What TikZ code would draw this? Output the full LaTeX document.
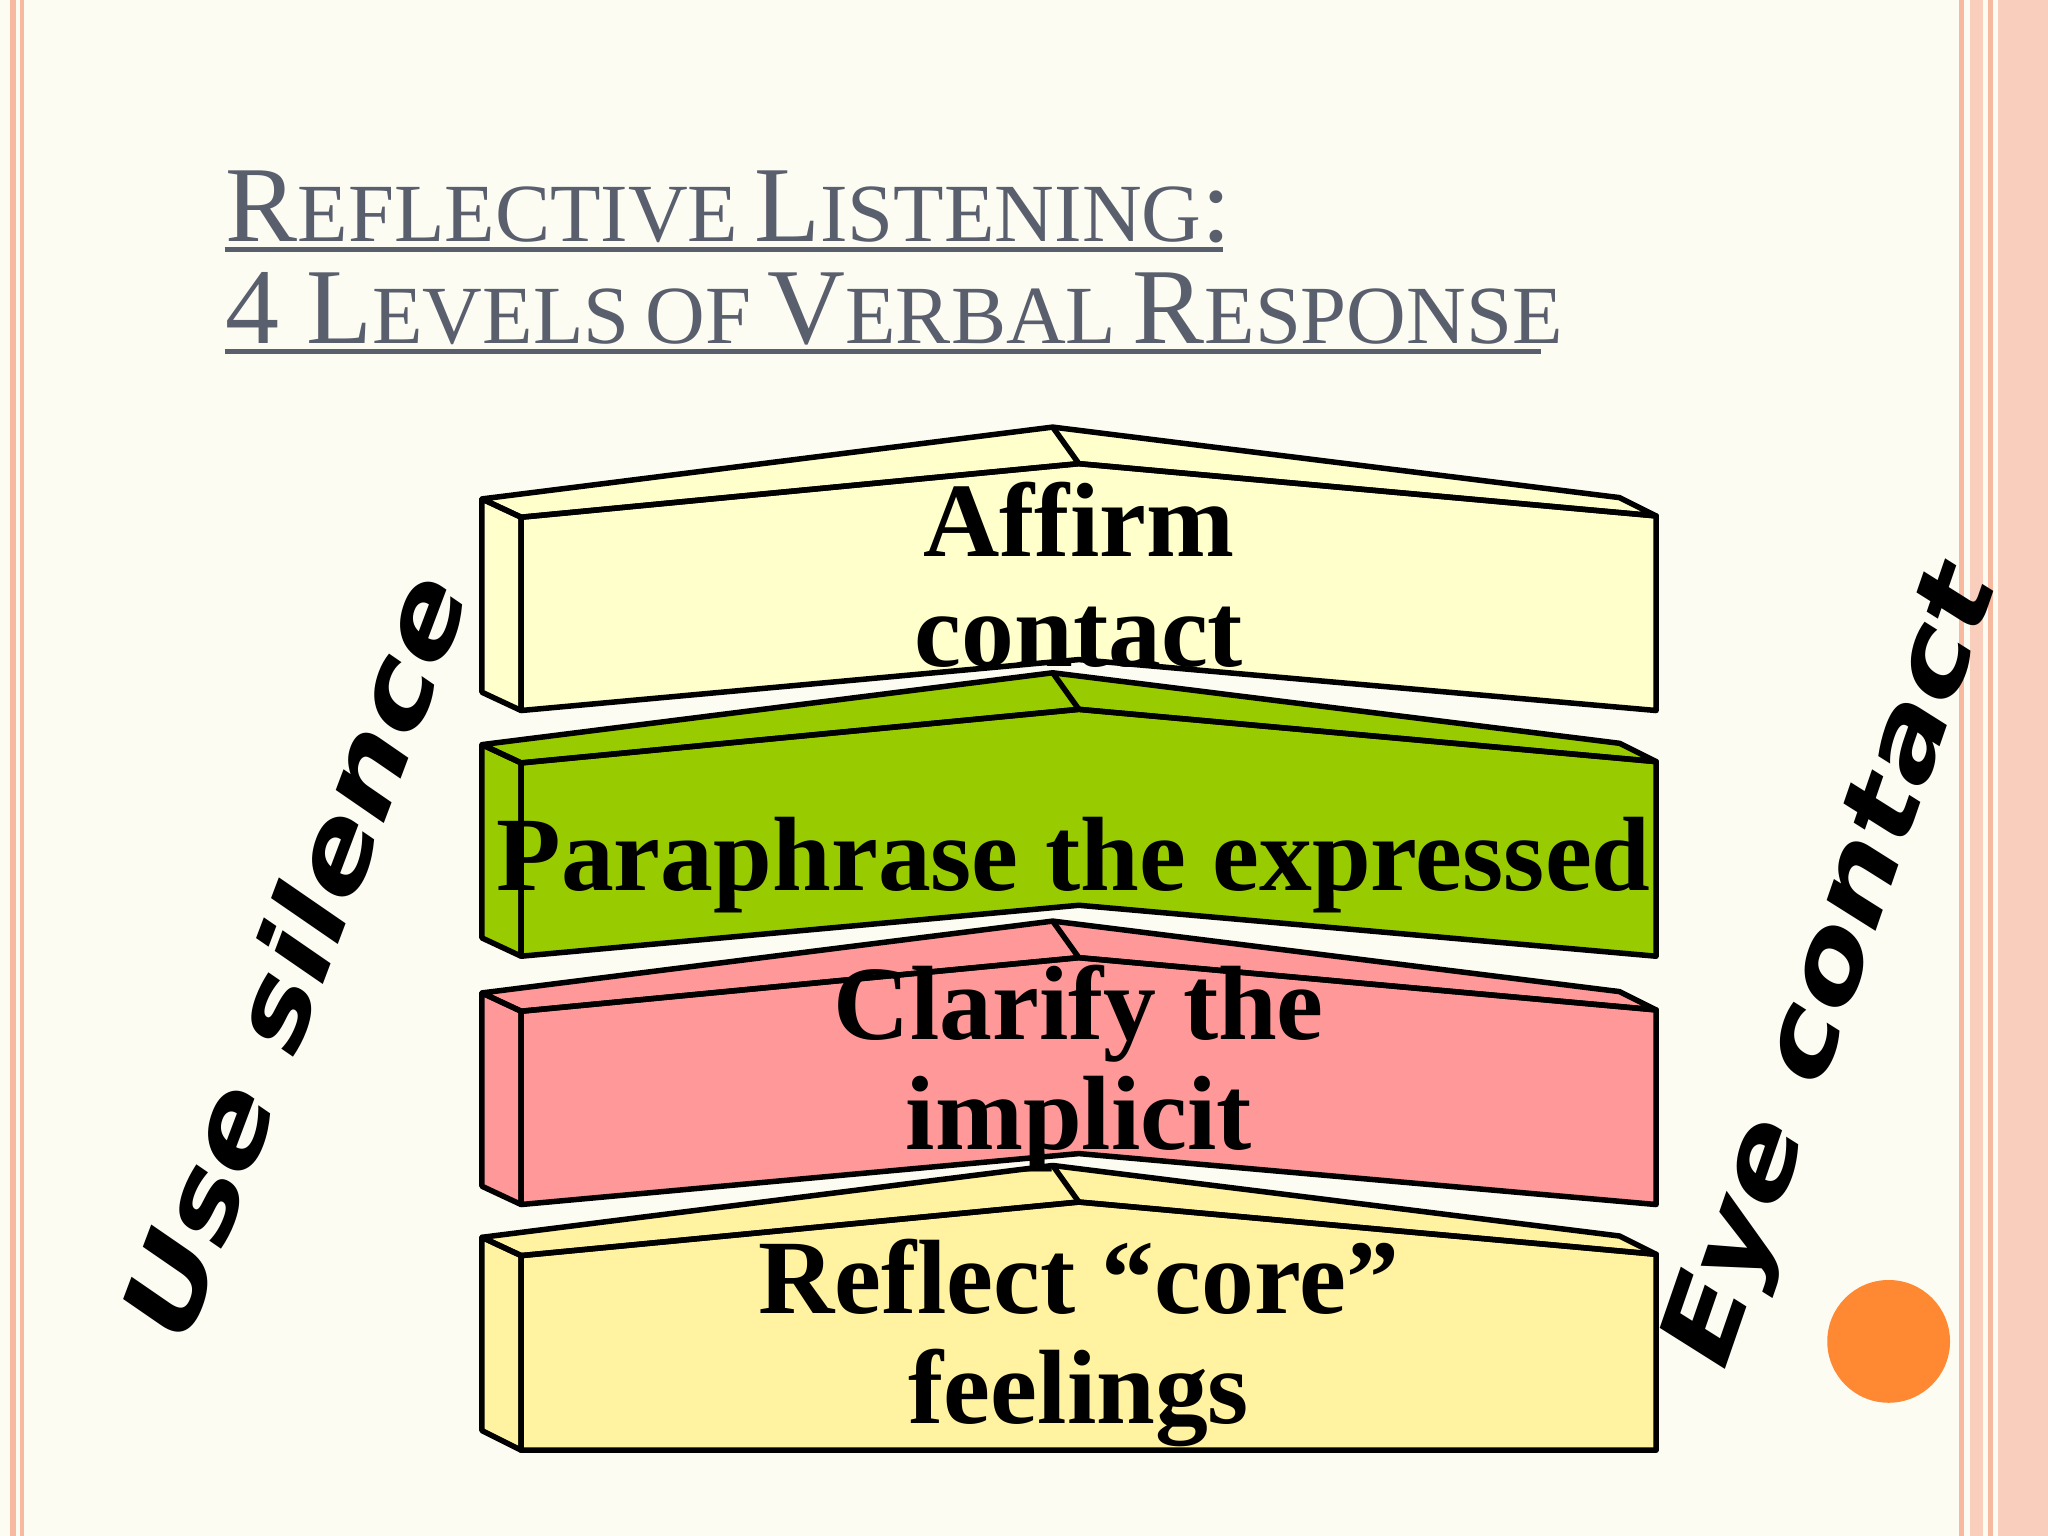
\documentclass[tikz,border=0pt]{standalone}
\usepackage{fontspec}
\setmainfont{Liberation Serif}
\newfontfamily\bigsans{DejaVu Sans}
\definecolor{bg}{HTML}{FDFCF3}
\definecolor{salmon}{HTML}{F7B9A0}
\definecolor{titlec}{HTML}{5A5F6E}
\definecolor{cA}{HTML}{FFFFCC}
\definecolor{cB}{HTML}{99CC00}
\definecolor{cC}{HTML}{FF9999}
\definecolor{cD}{HTML}{FFF2A0}
\definecolor{orng}{HTML}{FF8833}
\tikzset{face/.style={draw=black,line width=1.2pt,line join=round},
 lbl/.style={font=\fontsize{23}{24}\selectfont\bfseries,align=center,text=black},
 side/.style={font=\bigsans\bfseries\fontsize{29}{29}\selectfont,text=black,xscale=0.74}}
\newcommand{\mysc}[2]{{\fontsize{23.5}{24}\selectfont #1}{\fontsize{18}{18}\selectfont #2}}
\newcommand{\gap}{\hspace{0.35em}}
\newcommand{\mybox}[3]{% dy, color, name
 \begin{scope}[yshift=#1]
 \fill[#2] (369,382)--(806,327)--(1240,381)--(1268,395)--(1268,544)--(826,505)--(399,544)--(369,530)--cycle;
 \draw[face] (369,382)--(806,327)--(1240,381)--(1268,395)--(826,355)--(399,396)--cycle;
 \draw[face] (369,382)--(399,396)--(399,544)--(369,530)--cycle;
 \draw[face] (399,396)--(826,355)--(1268,395)--(1268,544)--(826,505)--(399,544)--cycle;
 \draw[face] (806,327)--(826,355);
 \coordinate (#3) at (826,450);
 \end{scope}}
\begin{document}
\begin{tikzpicture}[x=0.01cm,y=-0.01cm]
\fill[bg] (0,0) rectangle (1568,1176);
\useasboundingbox (0,0) rectangle (1568,1176);
\fill[salmon] (8,0) rectangle (12,1176);
\fill[salmon] (15,0) rectangle (18,1176);
\fill[salmon] (1500,0) rectangle (1504,1176);
\fill[salmon!70] (1508,0) rectangle (1518,1176);
\fill[salmon] (1522,0) rectangle (1526,1176);
\fill[salmon!70] (1530,0) rectangle (1568,1176);
\node[anchor=base west,text=titlec,inner sep=0] (t1) at (172,185) {\mysc{R}{EFLECTIVE}\gap\mysc{L}{ISTENING}\mysc{:}{}};
\node[anchor=base west,text=titlec,inner sep=0] (t2) at (172,263) {\mysc{4 L}{EVELS}\gap\mysc{}{OF}\gap\mysc{V}{ERBAL}\gap\mysc{R}{ESPONSE}};
\draw[titlec,line width=1.2pt] (t1.base west)++(0,6)--++(764,0);
\draw[titlec,line width=1.2pt] (t2.base west)++(0,6)--++(1008,0);
\mybox{0}{cA}{b1}
\mybox{-1.88cm}{cB}{b2}
\mybox{-3.78cm}{cC}{b3}
\begin{scope}[yshift=-5.65cm]
 \fill[cD] (369,382)--(806,327)--(1240,381)--(1268,395)--(1268,545)--(399,545)--(369,530)--cycle;
 \draw[face] (369,382)--(806,327)--(1240,381)--(1268,395)--(826,355)--(399,396)--cycle;
 \draw[face] (369,382)--(399,396)--(399,545)--(369,530)--cycle;
 \draw[face] (399,396)--(826,355)--(1268,395)--(1268,545)--(399,545)--cycle;
 \draw[face] (806,327)--(826,355);
\end{scope}
\node[lbl] (l1) at (826,440) {Affirm\\contact};
\node[lbl] (l2) at (822,662) {Paraphrase the expressed};
\node[lbl] (l3) at (826,818) {Clarify the\\implicit};
\node[lbl] (l4) at (826,1028) {Reflect “core”\\feelings};
\node[side,rotate=63] (s1) at (225,730) {Use silence};
\node[side,rotate=65] (s2) at (1405,742) {Eye contact};
\fill[orng] (1446,1027) circle (47);
\end{tikzpicture}
\end{document}
